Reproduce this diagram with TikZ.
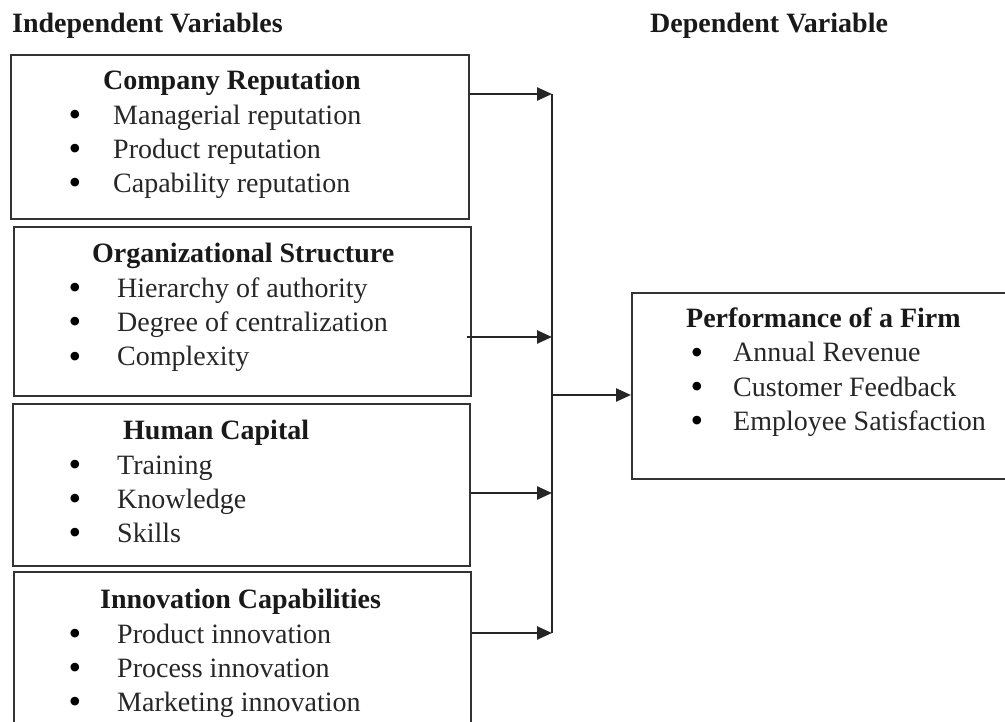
\documentclass[tikz,border=0pt]{standalone}
\usepackage{fontspec}
\setmainfont{Liberation Serif}
\usetikzlibrary{arrows.meta}
\begin{document}
\begin{tikzpicture}[x=1pt,y=-1pt,
  box/.style={draw=black!80, line width=2.4pt, inner sep=0pt, anchor=north west},
  txt/.style={anchor=base west, inner sep=0pt, text=black!85, font=\fontsize{28}{34}\selectfont},
  ttl/.style={anchor=base west, inner sep=0pt, text=black!90, font=\fontsize{28}{34}\selectfont\bfseries},
  bul/.style={anchor=base, inner sep=0pt, text=black, font=\fontsize{36}{34}\selectfont},
  conn/.style={line width=2.4pt, draw=black!85},
  arr/.style={conn, -{Triangle[length=15pt,width=13pt]}}]
\useasboundingbox (0,0) rectangle (1005,722);
\clip (0,0) rectangle (1005,722);
% headers
\node[ttl] (hI) at (12,33) {Independent Variables};
\node[ttl] (hD) at (650,33) {Dependent Variable};
% boxes
\node[box, minimum width=458pt, minimum height=164pt] (b1) at (10,54) {};
\node[box, minimum width=457pt, minimum height=169pt] (b2) at (13,226) {};
\node[box, minimum width=457pt, minimum height=162pt] (b3) at (12,403) {};
\node[box, minimum width=457pt, minimum height=175pt] (b4) at (13,571) {};
\node[box, minimum width=400pt, minimum height=186pt] (bR) at (631,292) {};
% box 1
\node[ttl] (t1) at (103,90) {Company Reputation};
\node[bul] (p11) at (75,127) {\textbullet}; \node[txt] (i11) at (113,125) {Managerial reputation};
\node[bul] (p12) at (75,161) {\textbullet}; \node[txt] (i12) at (113,159) {Product reputation};
\node[bul] (p13) at (75,195) {\textbullet}; \node[txt] (i13) at (113,193) {Capability reputation};
% box 2
\node[ttl] (t2) at (92,263) {Organizational Structure};
\node[bul] (p21) at (75,300) {\textbullet}; \node[txt] (i21) at (117,298) {Hierarchy of authority};
\node[bul] (p22) at (75,334) {\textbullet}; \node[txt] (i22) at (117,332) {Degree of centralization};
\node[bul] (p23) at (75,368) {\textbullet}; \node[txt] (i23) at (117,366) {Complexity};
% box 3
\node[ttl] (t3) at (123,439) {Human Capital};
\node[bul] (p31) at (75,476) {\textbullet}; \node[txt] (i31) at (117,474) {Training};
\node[bul] (p32) at (75,510) {\textbullet}; \node[txt] (i32) at (117,508) {Knowledge};
\node[bul] (p33) at (75,544) {\textbullet}; \node[txt] (i33) at (117,542) {Skills};
% box 4
\node[ttl] (t4) at (100,608) {Innovation Capabilities};
\node[bul] (p41) at (75,645) {\textbullet}; \node[txt] (i41) at (117,643) {Product innovation};
\node[bul] (p42) at (75,679) {\textbullet}; \node[txt] (i42) at (117,677) {Process innovation};
\node[bul] (p43) at (75,713) {\textbullet}; \node[txt] (i43) at (117,711) {Marketing innovation};
% right box
\node[ttl] (tR) at (686,328) {Performance of a Firm};
\node[bul] (pR1) at (697,364) {\textbullet}; \node[txt] (iR1) at (733,362) {Annual Revenue};
\node[bul] (pR2) at (697,398) {\textbullet}; \node[txt] (iR2) at (733,396) {Customer Feedback};
\node[bul] (pR3) at (697,432) {\textbullet}; \node[txt] (iR3) at (733,430) {Employee Satisfaction};
% connectors
\coordinate (v1) at (552,94);
\coordinate (v2) at (552,337);
\coordinate (v3) at (552,493);
\coordinate (v4) at (552,633);
\coordinate (vo) at (552,395);
\draw[conn] (v1) -- (v4);
\draw[arr] (b1.north east |- v1) -- (v1);
\draw[arr] ([xshift=-5pt]b2.north east |- v2) -- (v2);
\draw[arr] (b3.north east |- v3) -- (v3);
\draw[arr] (b4.north east |- v4) -- (v4);
\draw[arr] (vo) -- (bR.west |- vo);
\end{tikzpicture}
\end{document}
